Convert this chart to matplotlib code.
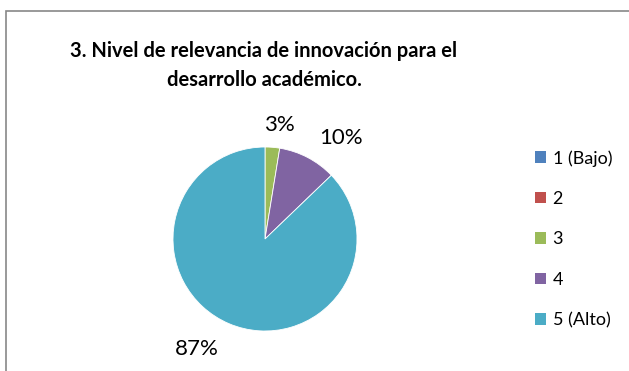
import numpy as np
import matplotlib
matplotlib.use("Agg")
import matplotlib.pyplot as plt
from matplotlib.patches import Patch, Rectangle

# survey responses per level (counts)
levels = ["1 (Bajo)", "2", "3", "4", "5 (Alto)"]
counts = [0, 0, 1, 4, 34]
colors = ["#4F81BD", "#C0504D", "#9BBB59", "#8064A2", "#4BACC6"]
# pixel offset of each percentage label from the wedge's outer edge
label_offsets = [(0, 0), (0, 0), (7, 22), (33, 20), (-32, -25)]

TITLE = "3. Nivel de relevancia de innovación para el\ndesarrollo académico."

plt.rcParams["font.family"] = ["Lato", "DejaVu Sans"]

W, H = 629, 371
fig = plt.figure(figsize=(W / 100, H / 100), dpi=100)

# grey chart frame
fig.patches.append(Rectangle((6 / W, -0.1), 1.2, 1 - 11 / H + 0.1,
                             transform=fig.transFigure, fill=False,
                             edgecolor="#878787", linewidth=1.2))

cx, cy, r = 265, 239, 92
ax = fig.add_axes([(cx - r) / W, (H - cy - r) / H, 2 * r / W, 2 * r / H])
wedges, _ = ax.pie(counts, colors=colors, startangle=90, counterclock=False,
                   radius=1, wedgeprops=dict(linewidth=0.6, edgecolor="white"))
ax.set_xlim(-1, 1)
ax.set_ylim(-1, 1)
ax.set_aspect("equal")
ax.axis("off")

total = sum(counts)
for w, c, off in zip(wedges, counts, label_offsets):
    if c == 0:
        continue
    mid = np.deg2rad((w.theta1 + w.theta2) / 2)
    ax.annotate(f"{100 * c / total:.0f}%", (np.cos(mid), np.sin(mid)),
                xytext=off, textcoords="offset pixels",
                ha="center", va="center", fontsize=16, color="#000000",
                annotation_clip=False)

fig.text(264 / W, 1 - 65.5 / H, TITLE, ha="center", va="center",
         fontsize=14.5, fontweight="bold", linespacing=1.55)

handles = [Patch(facecolor=c, edgecolor="none") for c in colors]
fig.legend(handles, levels, loc="upper left", bbox_to_anchor=(526 / W, 1 - 141 / H),
           frameon=False, fontsize=13, handlelength=0.62, handleheight=0.62,
           handletextpad=0.35, labelspacing=1.35, borderpad=0)

fig.savefig("out.png", dpi=100)
